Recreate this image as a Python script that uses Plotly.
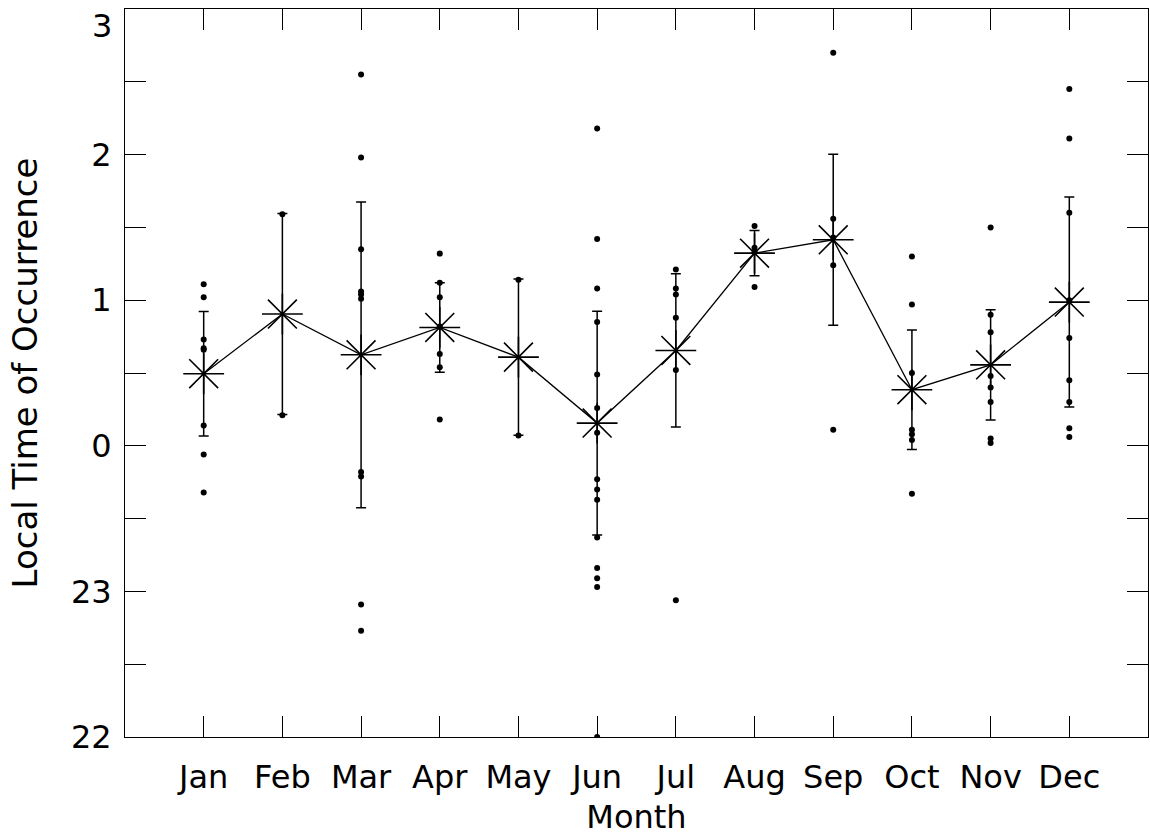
import plotly.graph_objects as go

# Month labels and positions on the x axis
months = ["Jan", "Feb", "Mar", "Apr", "May", "Jun",
          "Jul", "Aug", "Sep", "Oct", "Nov", "Dec"]
month_pos = list(range(1, 13))

# Individual event times (hours after local midnight; negative = previous evening)
jan = [1.11, 1.02, 0.73, 0.67, 0.66, 0.14, -0.06, -0.32]
feb = [1.59, 0.21]
mar = [2.55, 1.98, 1.35, 1.06, 1.04, 1.01, -0.18, -0.21, -1.09, -1.27]
apr = [1.32, 1.12, 1.02, 0.82, 0.63, 0.54, 0.18]
may = [1.14, 0.07]
jun = [2.18, 1.42, 1.08, 0.85, 0.49, 0.26, 0.09, -0.23, -0.30, -0.37,
       -0.63, -0.84, -0.91, -0.97, -2.0]
jul = [1.21, 1.08, 1.04, 0.88, 0.52, -1.06]
aug = [1.51, 1.36, 1.33, 1.09]
sep = [2.70, 1.56, 1.43, 1.24, 0.11]
oct_ = [1.30, 0.97, 0.50, 0.11, 0.08, 0.04, -0.33]
nov = [1.50, 0.90, 0.78, 0.48, 0.40, 0.30, 0.05, 0.02]
dec = [2.45, 2.11, 1.60, 1.00, 0.74, 0.45, 0.30, 0.12, 0.06]

# Monthly mean time and spread
monthly_mean = [0.495, 0.905, 0.625, 0.813, 0.609, 0.156,
                0.655, 1.323, 1.415, 0.385, 0.556, 0.987]
monthly_err = [0.428, 0.690, 1.050, 0.307, 0.536, 0.768,
               0.526, 0.155, 0.587, 0.410, 0.378, 0.721]

# Y axis tick values and labels (hours wrap around midnight)
y_tickvals = [-2, -1.5, -1, -0.5, 0, 0.5, 1, 1.5, 2, 2.5, 3]
y_ticktext = ["22", "", "23", "", "0", "", "1", "", "2", "", "3"]

events = [jan, feb, mar, apr, may, jun, jul, aug, sep, oct_, nov, dec]
dot_x, dot_y = [], []
for pos, vals in zip(month_pos, events):
    dot_x += [pos] * len(vals)
    dot_y += vals

FONT = "DejaVu Sans"

fig = go.Figure()

fig.add_trace(go.Scatter(
    x=dot_x, y=dot_y, mode="markers",
    marker=dict(symbol="circle", size=6, color="black"),
    showlegend=False, hoverinfo="y",
))

fig.add_trace(go.Scatter(
    x=month_pos, y=monthly_mean, mode="lines+markers",
    line=dict(color="black", width=1.3),
    marker=dict(symbol="asterisk-open", size=34,
                line=dict(color="black", width=1.6)),
    error_y=dict(type="data", array=monthly_err, visible=True,
                 color="black", thickness=1.5, width=5),
    showlegend=False,
))

# The topmost tick label sits just below its tick so it stays on the page;
# the remaining labels are drawn by the axis itself.
top_val = y_tickvals[-1]
top_label = y_ticktext[-1]
axis_ticktext = y_ticktext[:-1] + [""]

fig.add_annotation(
    x=0, xref="paper", y=top_val, yref="y",
    text=top_label, showarrow=False,
    xanchor="right", yanchor="top", xshift=-11, yshift=4,
    font=dict(family=FONT, size=32, color="black"),
)

fig.update_layout(
    width=1150, height=837,
    margin=dict(l=125, r=2, t=9, b=100, autoexpand=False),
    paper_bgcolor="white", plot_bgcolor="white",
    font=dict(family=FONT, color="black", size=30),
    xaxis=dict(
        range=[0, 13], tickvals=month_pos, ticktext=months,
        ticks="inside", ticklen=21, tickwidth=1, tickcolor="black",
        showline=True, linecolor="black", linewidth=1, mirror="ticks",
        showgrid=False, zeroline=False, automargin=False,
        ticklabelstandoff=12,
        tickfont=dict(family=FONT, size=32),
        title=dict(text="Month", font=dict(family=FONT, size=32), standoff=10),
    ),
    yaxis=dict(
        range=[-2, 3], tickvals=y_tickvals, ticktext=axis_ticktext,
        ticks="inside", ticklen=21, tickwidth=1, tickcolor="black",
        showline=True, linecolor="black", linewidth=1, mirror="ticks",
        showgrid=False, zeroline=False, automargin=False,
        ticklabelstandoff=6,
        tickfont=dict(family=FONT, size=32),
        title=dict(text="Local Time of Occurrence",
                   font=dict(family=FONT, size=34), standoff=22),
    ),
)

fig.write_html("out.html")
